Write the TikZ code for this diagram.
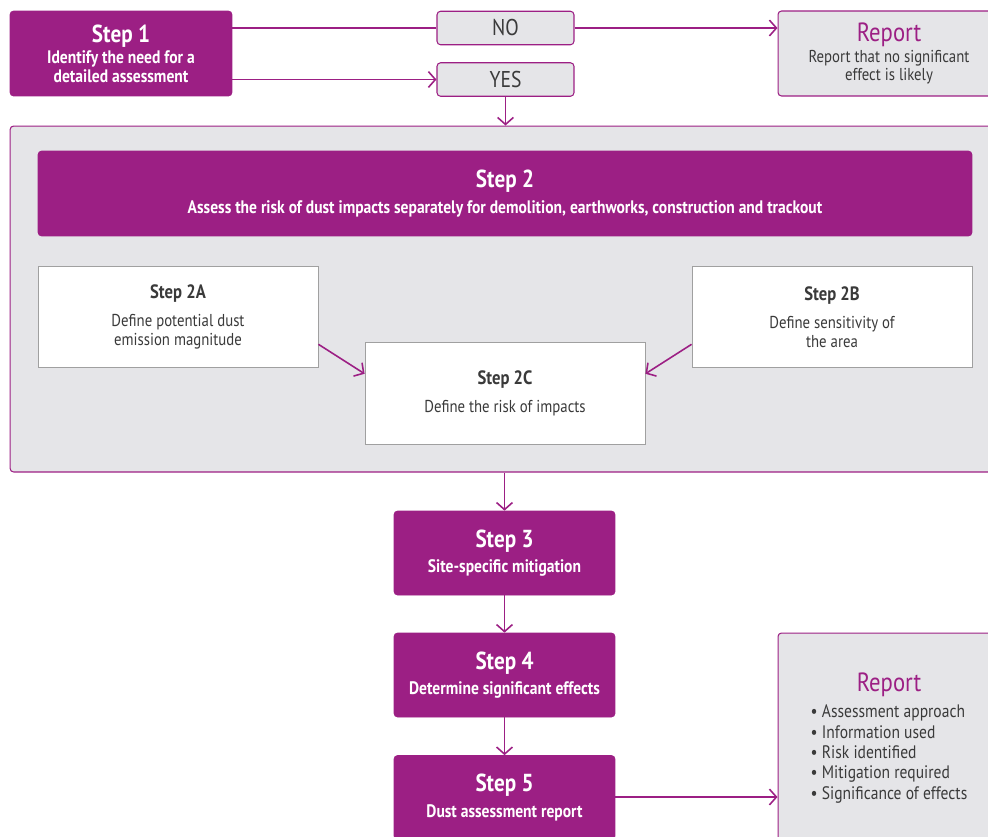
\documentclass[tikz,border=0pt]{standalone}
\usepackage{fontspec}
\setmainfont{PT Sans}[FakeStretch=0.86]
\usepackage{tikz}
\usetikzlibrary{arrows.meta}

\definecolor{dustpurple}{HTML}{9C1F84}
\definecolor{panelgray}{HTML}{E5E5E8}
\definecolor{textgray}{HTML}{3A3A3A}
\definecolor{edgegray}{HTML}{A0A0A0}

\tikzset{
    stepbox/.style={fill=dustpurple, draw=dustpurple, rounded corners=2pt, text=white, align=center,
        minimum width=4.42cm, minimum height=1.68cm, font=\fontsize{10.3}{10.4}\selectfont\bfseries},
    choicebox/.style={fill=panelgray, draw=dustpurple, line width=0.6pt, rounded corners=2pt, text=textgray,
        minimum width=2.74cm, minimum height=0.67cm, font=\fontsize{13}{14}\selectfont},
    reportbox/.style={fill=panelgray, draw=dustpurple, line width=0.6pt, rounded corners=2pt, text=textgray,
        align=center, minimum width=4.44cm},
    subbox/.style={fill=white, draw=edgegray, line width=0.5pt, text=textgray, align=center,
        minimum width=5.6cm, minimum height=2.03cm, font=\fontsize{9.8}{10.8}\selectfont},
    link/.style={draw=dustpurple, line width=0.9pt},
    arrowlink/.style={link, -{Straight Barb[length=4pt,width=9pt]}},
}

\newcommand{\steptitle}[1]{{\fontsize{14}{16}\selectfont #1}}
\newcommand{\reporttitle}[1]{{\color{dustpurple}\fontsize{15}{17}\selectfont #1}}

\begin{document}
\begin{tikzpicture}[x=0.02cm, y=-0.02cm]

\useasboundingbox (0,0) rectangle (988,836);
\clip (0,0) rectangle (988,836);

% grey panel round step 2
\node[reportbox, minimum width=19.8cm, minimum height=6.92cm] (riskpanel) at (505,299) {};

\node[stepbox, minimum width=4.44cm, minimum height=1.7cm] (stepone) at (121,53.5)
    {\steptitle{Step 1}\\[2pt] Identify the need for a\\ detailed assessment};

\node[choicebox] (no) at (505.5,28) {NO};

\node[choicebox] (yes) at (505.5,79.5) {YES};

\node[reportbox, minimum height=1.7cm, font=\fontsize{9.8}{10.2}\selectfont] (reporttop) at (889,53.5)
    {\reporttitle{Report}\\[2pt] Report that no significant\\ effect is likely};

\node[stepbox, minimum width=18.68cm, minimum height=1.7cm] (steptwo) at (505,193.5)
    {\steptitle{Step 2}\\[4pt] Assess the risk of dust impacts separately for demolition, earthworks, construction and trackout};

\node[subbox] (steptwoa) at (178,317)
    {{\bfseries\fontsize{11}{13}\selectfont Step 2A}\\[5pt] Define potential dust\\ emission magnitude};

\node[subbox] (steptwob) at (832,317)
    {{\bfseries\fontsize{11}{13}\selectfont Step 2B}\\[5pt] Define sensitivity of\\ the area};

\node[subbox] (steptwoc) at (505,393.5)
    {{\bfseries\fontsize{11}{13}\selectfont Step 2C}\\[5pt] Define the risk of impacts};

\node[stepbox] (stepthree) at (504.5,553)
    {\steptitle{Step 3}\\[4pt] Site-specific mitigation};

\node[stepbox] (stepfour) at (504.5,675)
    {\steptitle{Step 4}\\[4pt] Determine significant effects};

\node[stepbox] (stepfive) at (504.5,797.5)
    {\steptitle{Step 5}\\[4pt] Dust assessment report};

\node[reportbox, minimum height=4.24cm] (reportbottom) at (889,739)
    {\reporttitle{Report}\\[3pt]
    {\fontsize{10.3}{11.6}\selectfont
    \begin{tabular}{@{}l@{}}
    \textbullet\ Assessment approach\\
    \textbullet\ Information used\\
    \textbullet\ Risk identified\\
    \textbullet\ Mitigation required\\
    \textbullet\ Significance of effects
    \end{tabular}}};

\draw[link] (no.west -| stepone.east) -- (no.west);

\draw[arrowlink] (no.east) -- (no.east -| reporttop.west);

\draw[arrowlink] (yes.west -| stepone.east) -- (yes.west);

\draw[arrowlink] (yes.south) -- (yes.south |- riskpanel.north);

\draw[arrowlink] (steptwoa.-11) -- (steptwoc.172);

\draw[arrowlink] (steptwob.191) -- (steptwoc.8);

\draw[arrowlink] (stepthree.north |- riskpanel.south) -- (stepthree.north);

\draw[arrowlink] (stepthree.south) -- (stepfour.north);

\draw[arrowlink] (stepfour.south) -- (stepfive.north);

\draw[arrowlink] (stepfive.east |- 0,797) -- (reportbottom.west |- 0,797);

\end{tikzpicture}
\end{document}
